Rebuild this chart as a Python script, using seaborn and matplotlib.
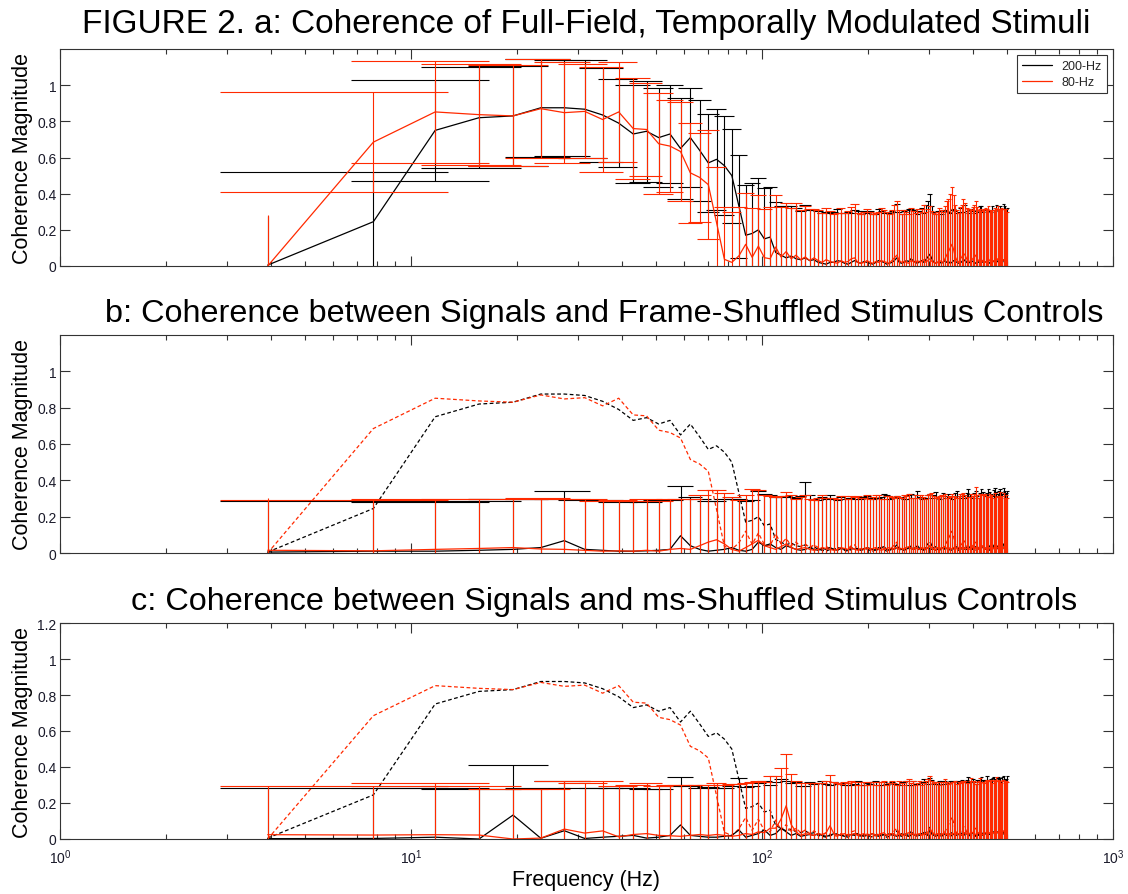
import numpy as np
import matplotlib
matplotlib.use("Agg")
import matplotlib.pyplot as plt
import seaborn as sns

# ---------------- data ----------------
FREQ_RES = 1000.0 / 256.0          # Hz per FFT bin
N_BINS = 128
freq = np.arange(1, N_BINS + 1) * FREQ_RES

series_labels = ["200-Hz", "80-Hz"]

# panel a: coherence means
coh_200 = [0.005, 0.245, 0.75, 0.82, 0.83, 0.875, 0.875, 0.867, 0.835, 0.79,
           0.73, 0.745, 0.71, 0.73, 0.65, 0.71, 0.64, 0.57, 0.59, 0.555,
           0.50, 0.33, 0.17, 0.18, 0.20, 0.15, 0.16, 0.075, 0.06, 0.045,
           0.055, 0.04, 0.035, 0.045, 0.03, 0.035, 0.02, 0.015, 0.01, 0.02,
           0.02, 0.03, 0.025, 0.015, 0.01, 0.02, 0.03, 0.02, 0.015, 0.025,
           0.02, 0.015, 0.01, 0.02, 0.03, 0.025, 0.02, 0.01, 0.015, 0.02,
           0.03, 0.045, 0.02, 0.015, 0.02, 0.03, 0.025, 0.04, 0.03, 0.02,
           0.015, 0.025, 0.03, 0.02, 0.035, 0.05, 0.065, 0.04, 0.02, 0.015,
           0.02, 0.025, 0.015, 0.02, 0.03, 0.02, 0.025, 0.015, 0.02, 0.03,
           0.025, 0.02, 0.015, 0.03, 0.02, 0.025, 0.035, 0.02, 0.015, 0.02,
           0.03, 0.025, 0.02, 0.015, 0.025, 0.02, 0.03, 0.035, 0.02, 0.025,
           0.02, 0.03, 0.025, 0.015, 0.02, 0.03, 0.025, 0.02, 0.035, 0.025,
           0.02, 0.03, 0.025, 0.02, 0.035, 0.03, 0.025, 0.02]
coh_80 = [0.0, 0.685, 0.852, 0.837, 0.83, 0.87, 0.848, 0.855, 0.81, 0.852,
          0.76, 0.755, 0.676, 0.663, 0.633, 0.515, 0.49, 0.45, 0.24, 0.037,
          0.02, 0.056, 0.12, 0.048, 0.11, 0.046, 0.04, 0.105, 0.05, 0.08,
          0.04, 0.06, 0.035, 0.05, 0.03, 0.045, 0.03, 0.02, 0.035, 0.025,
          0.02, 0.015, 0.03, 0.02, 0.025, 0.04, 0.045, 0.02, 0.015, 0.02,
          0.03, 0.02, 0.015, 0.025, 0.02, 0.03, 0.025, 0.02, 0.015, 0.03,
          0.045, 0.06, 0.03, 0.02, 0.025, 0.02, 0.015, 0.03, 0.025, 0.02,
          0.03, 0.02, 0.025, 0.035, 0.02, 0.03, 0.04, 0.025, 0.02, 0.015,
          0.02, 0.03, 0.025, 0.02, 0.04, 0.06, 0.08, 0.1, 0.12, 0.09,
          0.05, 0.03, 0.02, 0.04, 0.05, 0.07, 0.06, 0.04, 0.03, 0.025,
          0.03, 0.04, 0.05, 0.06, 0.04, 0.03, 0.025, 0.02, 0.03, 0.025,
          0.02, 0.03, 0.04, 0.03, 0.025, 0.02, 0.03, 0.025, 0.03, 0.04,
          0.03, 0.025, 0.02, 0.03, 0.035, 0.025, 0.03, 0.02]
err_200 = [0.27, 0.275, 0.28, 0.28, 0.275, 0.27, 0.265, 0.27, 0.26, 0.245,
           0.27, 0.28, 0.275, 0.27, 0.28, 0.275, 0.28, 0.27, 0.28, 0.275,
           0.26, 0.285, 0.277, 0.28, 0.287, 0.28, 0.275, 0.28, 0.27, 0.285,
           0.275, 0.28, 0.27, 0.29, 0.28, 0.275, 0.285, 0.28, 0.29, 0.275,
           0.28, 0.285, 0.27, 0.28, 0.29, 0.275, 0.28, 0.285, 0.27, 0.28,
           0.275, 0.29, 0.28, 0.27, 0.285, 0.28, 0.275, 0.29, 0.28, 0.285,
           0.27, 0.3, 0.28, 0.275, 0.285, 0.28, 0.29, 0.275, 0.28, 0.285,
           0.27, 0.28, 0.29, 0.275, 0.3, 0.31, 0.335, 0.29, 0.28, 0.275,
           0.285, 0.28, 0.27, 0.29, 0.28, 0.285, 0.275, 0.28, 0.29, 0.285,
           0.28, 0.275, 0.285, 0.29, 0.28, 0.275, 0.3, 0.285, 0.28, 0.29,
           0.285, 0.28, 0.275, 0.29, 0.285, 0.28, 0.3, 0.295, 0.28, 0.285,
           0.29, 0.28, 0.285, 0.29, 0.28, 0.3, 0.285, 0.29, 0.305, 0.29,
           0.285, 0.3, 0.29, 0.295, 0.31, 0.3, 0.29, 0.3]
err_80 = [0.28, 0.275, 0.28, 0.28, 0.279, 0.275, 0.278, 0.26, 0.29, 0.275,
          0.28, 0.255, 0.278, 0.255, 0.273, 0.275, 0.245, 0.3, 0.31, 0.29,
          0.28, 0.27, 0.285, 0.275, 0.28, 0.27, 0.285, 0.29, 0.275, 0.27,
          0.28, 0.29, 0.275, 0.28, 0.285, 0.27, 0.28, 0.275, 0.285, 0.28,
          0.27, 0.28, 0.29, 0.275, 0.28, 0.285, 0.3, 0.275, 0.27, 0.28,
          0.285, 0.28, 0.275, 0.27, 0.28, 0.29, 0.285, 0.28, 0.275, 0.28,
          0.29, 0.3, 0.28, 0.27, 0.285, 0.28, 0.275, 0.29, 0.28, 0.275,
          0.285, 0.28, 0.29, 0.3, 0.28, 0.285, 0.29, 0.28, 0.275, 0.27,
          0.28, 0.29, 0.285, 0.28, 0.29, 0.3, 0.29, 0.3, 0.317, 0.3,
          0.29, 0.28, 0.275, 0.285, 0.29, 0.3, 0.29, 0.28, 0.285, 0.29,
          0.28, 0.285, 0.29, 0.3, 0.285, 0.28, 0.29, 0.285, 0.28, 0.29,
          0.3, 0.285, 0.29, 0.28, 0.285, 0.29, 0.28, 0.295, 0.285, 0.29,
          0.28, 0.29, 0.3, 0.285, 0.28, 0.29, 0.285, 0.28]

# panel b: frame-shuffled controls
frame_200 = [0.005, 0.01, 0.01, 0.015, 0.02, 0.03, 0.068, 0.02, 0.015, 0.01,
             0.01, 0.012, 0.015, 0.02, 0.095, 0.04, 0.02, 0.01, 0.015, 0.02,
             0.03, 0.015, 0.01, 0.02, 0.06, 0.04, 0.05, 0.03, 0.02, 0.04,
             0.03, 0.02, 0.015, 0.02, 0.03, 0.02, 0.015, 0.025, 0.02, 0.03,
             0.02, 0.015, 0.025, 0.02, 0.015, 0.03, 0.02, 0.025, 0.015, 0.02,
             0.03, 0.025, 0.02, 0.015, 0.02, 0.03, 0.035, 0.02, 0.015, 0.025,
             0.02, 0.03, 0.025, 0.02, 0.015, 0.02, 0.03, 0.025, 0.02, 0.03,
             0.04, 0.025, 0.02, 0.015, 0.02, 0.03, 0.025, 0.02, 0.03, 0.035,
             0.02, 0.015, 0.025, 0.03, 0.02, 0.025, 0.03, 0.02, 0.015, 0.025,
             0.03, 0.035, 0.025, 0.02, 0.03, 0.025, 0.02, 0.03, 0.04, 0.03,
             0.025, 0.02, 0.03, 0.035, 0.025, 0.02, 0.03, 0.04, 0.035, 0.03,
             0.025, 0.03, 0.045, 0.035, 0.03, 0.025, 0.04, 0.05, 0.035, 0.03,
             0.04, 0.045, 0.035, 0.03, 0.05, 0.04, 0.035, 0.04]
frame_80 = [0.015, 0.012, 0.02, 0.025, 0.03, 0.022, 0.02, 0.015, 0.01, 0.012,
            0.01, 0.015, 0.01, 0.02, 0.025, 0.02, 0.04, 0.06, 0.073, 0.05,
            0.02, 0.01, 0.03, 0.05, 0.07, 0.04, 0.03, 0.02, 0.035, 0.05,
            0.03, 0.02, 0.025, 0.03, 0.02, 0.015, 0.02, 0.03, 0.025, 0.02,
            0.015, 0.02, 0.03, 0.025, 0.02, 0.03, 0.02, 0.015, 0.025, 0.02,
            0.03, 0.02, 0.025, 0.03, 0.02, 0.015, 0.02, 0.025, 0.03, 0.02,
            0.025, 0.03, 0.02, 0.025, 0.02, 0.03, 0.035, 0.025, 0.02, 0.03,
            0.025, 0.02, 0.03, 0.025, 0.02, 0.03, 0.04, 0.03, 0.025, 0.02,
            0.03, 0.025, 0.02, 0.03, 0.035, 0.025, 0.03, 0.02, 0.025, 0.03,
            0.02, 0.025, 0.03, 0.035, 0.025, 0.02, 0.03, 0.025, 0.03, 0.02,
            0.025, 0.03, 0.035, 0.025, 0.03, 0.02, 0.025, 0.03, 0.04, 0.03,
            0.025, 0.03, 0.02, 0.025, 0.035, 0.03, 0.025, 0.03, 0.02, 0.03,
            0.025, 0.035, 0.03, 0.025, 0.03, 0.02, 0.03, 0.025]
frame_err_200 = [0.28, 0.275, 0.27, 0.27, 0.275, 0.27, 0.272, 0.27, 0.275, 0.27,
                 0.275, 0.27, 0.275, 0.27, 0.275, 0.27, 0.28, 0.275, 0.27, 0.275,
                 0.27, 0.28, 0.275, 0.27, 0.28, 0.285, 0.27, 0.28, 0.29, 0.275,
                 0.28, 0.285, 0.3, 0.37, 0.29, 0.28, 0.275, 0.285, 0.28, 0.29,
                 0.28, 0.275, 0.285, 0.28, 0.29, 0.275, 0.28, 0.285, 0.28, 0.29,
                 0.285, 0.28, 0.275, 0.29, 0.285, 0.28, 0.29, 0.3, 0.285, 0.28,
                 0.29, 0.285, 0.28, 0.29, 0.285, 0.28, 0.29, 0.3, 0.285, 0.29,
                 0.3, 0.285, 0.28, 0.29, 0.285, 0.29, 0.3, 0.285, 0.29, 0.3,
                 0.285, 0.28, 0.29, 0.3, 0.285, 0.29, 0.295, 0.285, 0.28, 0.29,
                 0.3, 0.305, 0.29, 0.285, 0.295, 0.29, 0.285, 0.3, 0.31, 0.295,
                 0.29, 0.285, 0.3, 0.305, 0.29, 0.285, 0.3, 0.31, 0.3, 0.295,
                 0.29, 0.3, 0.31, 0.3, 0.295, 0.29, 0.305, 0.31, 0.3, 0.295,
                 0.3, 0.31, 0.3, 0.295, 0.31, 0.3, 0.295, 0.3]
frame_err_80 = [0.29, 0.28, 0.28, 0.275, 0.27, 0.28, 0.275, 0.28, 0.275, 0.28,
                0.275, 0.28, 0.275, 0.28, 0.275, 0.28, 0.28, 0.285, 0.275, 0.28,
                0.29, 0.28, 0.29, 0.3, 0.275, 0.28, 0.285, 0.29, 0.28, 0.285,
                0.29, 0.28, 0.285, 0.29, 0.28, 0.275, 0.285, 0.29, 0.28, 0.285,
                0.29, 0.28, 0.285, 0.29, 0.28, 0.285, 0.29, 0.3, 0.28, 0.285,
                0.29, 0.28, 0.285, 0.29, 0.3, 0.285, 0.28, 0.29, 0.285, 0.29,
                0.28, 0.285, 0.29, 0.28, 0.3, 0.285, 0.29, 0.28, 0.285, 0.29,
                0.28, 0.3, 0.29, 0.285, 0.28, 0.29, 0.285, 0.3, 0.29, 0.285,
                0.28, 0.29, 0.3, 0.285, 0.29, 0.28, 0.285, 0.29, 0.3, 0.285,
                0.29, 0.28, 0.285, 0.29, 0.3, 0.31, 0.29, 0.285, 0.28, 0.29,
                0.3, 0.285, 0.29, 0.34, 0.29, 0.285, 0.3, 0.29, 0.285, 0.29,
                0.3, 0.285, 0.29, 0.3, 0.285, 0.29, 0.28, 0.3, 0.29, 0.285,
                0.29, 0.3, 0.285, 0.29, 0.3, 0.285, 0.29, 0.28]

# panel c: ms-shuffled controls
ms_200 = [0.002, 0.003, 0.01, 0.0, 0.133, 0.004, 0.046, 0.003, 0.01, 0.015,
          0.02, 0.005, 0.01, 0.02, 0.078, 0.02, 0.015, 0.01, 0.01, 0.015,
          0.02, 0.05, 0.01, 0.02, 0.03, 0.05, 0.02, 0.03, 0.06, 0.04,
          0.02, 0.03, 0.015, 0.02, 0.025, 0.02, 0.03, 0.02, 0.015, 0.02,
          0.03, 0.025, 0.02, 0.015, 0.02, 0.025, 0.02, 0.03, 0.02, 0.015,
          0.02, 0.025, 0.03, 0.02, 0.015, 0.02, 0.025, 0.02, 0.03, 0.025,
          0.02, 0.015, 0.02, 0.03, 0.025, 0.02, 0.015, 0.02, 0.03, 0.02,
          0.025, 0.02, 0.03, 0.035, 0.025, 0.02, 0.05, 0.03, 0.02, 0.025,
          0.02, 0.03, 0.025, 0.02, 0.03, 0.025, 0.02, 0.03, 0.035, 0.025,
          0.02, 0.03, 0.025, 0.035, 0.03, 0.02, 0.025, 0.03, 0.035, 0.025,
          0.03, 0.035, 0.025, 0.02, 0.03, 0.025, 0.03, 0.035, 0.03, 0.025,
          0.03, 0.04, 0.03, 0.025, 0.035, 0.03, 0.04, 0.035, 0.03, 0.04,
          0.035, 0.04, 0.03, 0.045, 0.04, 0.035, 0.04, 0.05]
ms_80 = [0.024, 0.022, 0.024, 0.022, 0.0, 0.005, 0.055, 0.033, 0.045, 0.012,
         0.025, 0.03, 0.02, 0.018, 0.015, 0.02, 0.025, 0.02, 0.025, 0.02,
         0.015, 0.02, 0.03, 0.025, 0.04, 0.035, 0.06, 0.06, 0.11, 0.185,
         0.08, 0.04, 0.02, 0.03, 0.025, 0.02, 0.03, 0.025, 0.035, 0.074,
         0.03, 0.02, 0.025, 0.03, 0.02, 0.025, 0.03, 0.02, 0.025, 0.03,
         0.02, 0.025, 0.03, 0.02, 0.025, 0.03, 0.035, 0.02, 0.025, 0.03,
         0.025, 0.02, 0.03, 0.025, 0.02, 0.03, 0.035, 0.025, 0.03, 0.02,
         0.025, 0.03, 0.02, 0.025, 0.03, 0.035, 0.06, 0.04, 0.03, 0.025,
         0.03, 0.02, 0.025, 0.03, 0.035, 0.025, 0.02, 0.03, 0.025, 0.03,
         0.035, 0.025, 0.03, 0.02, 0.025, 0.03, 0.035, 0.03, 0.025, 0.03,
         0.04, 0.035, 0.03, 0.025, 0.03, 0.035, 0.04, 0.03, 0.025, 0.03,
         0.035, 0.04, 0.03, 0.035, 0.04, 0.03, 0.035, 0.04, 0.045, 0.035,
         0.04, 0.035, 0.03, 0.04, 0.045, 0.035, 0.04, 0.03]
ms_err_200 = [0.28, 0.278, 0.275, 0.28, 0.277, 0.28, 0.275, 0.28, 0.275, 0.27,
              0.265, 0.275, 0.27, 0.275, 0.265, 0.275, 0.27, 0.28, 0.275, 0.27,
              0.275, 0.29, 0.28, 0.275, 0.28, 0.275, 0.28, 0.285, 0.275, 0.28,
              0.29, 0.285, 0.28, 0.275, 0.29, 0.285, 0.28, 0.3, 0.29, 0.28,
              0.285, 0.28, 0.29, 0.285, 0.28, 0.275, 0.285, 0.29, 0.28, 0.285,
              0.29, 0.28, 0.285, 0.3, 0.285, 0.28, 0.29, 0.285, 0.28, 0.29,
              0.285, 0.29, 0.28, 0.285, 0.29, 0.3, 0.285, 0.28, 0.29, 0.285,
              0.28, 0.29, 0.285, 0.3, 0.29, 0.285, 0.29, 0.3, 0.285, 0.29,
              0.285, 0.29, 0.3, 0.285, 0.29, 0.28, 0.29, 0.295, 0.285, 0.29,
              0.3, 0.29, 0.285, 0.29, 0.3, 0.295, 0.29, 0.3, 0.31, 0.29,
              0.295, 0.3, 0.29, 0.285, 0.3, 0.295, 0.3, 0.31, 0.3, 0.295,
              0.3, 0.31, 0.3, 0.295, 0.3, 0.31, 0.305, 0.3, 0.295, 0.3,
              0.31, 0.3, 0.295, 0.3, 0.31, 0.3, 0.295, 0.3]
ms_err_80 = [0.27, 0.273, 0.285, 0.27, 0.28, 0.275, 0.27, 0.28, 0.275, 0.28,
             0.275, 0.28, 0.275, 0.28, 0.285, 0.28, 0.275, 0.28, 0.285, 0.28,
             0.29, 0.285, 0.28, 0.29, 0.285, 0.28, 0.29, 0.29, 0.285, 0.285,
             0.28, 0.285, 0.29, 0.28, 0.285, 0.29, 0.28, 0.285, 0.29, 0.28,
             0.285, 0.29, 0.28, 0.285, 0.29, 0.3, 0.285, 0.28, 0.29, 0.285,
             0.28, 0.29, 0.285, 0.28, 0.29, 0.285, 0.29, 0.28, 0.285, 0.29,
             0.285, 0.28, 0.29, 0.285, 0.28, 0.29, 0.3, 0.285, 0.29, 0.28,
             0.285, 0.29, 0.28, 0.285, 0.29, 0.3, 0.29, 0.285, 0.28, 0.29,
             0.285, 0.28, 0.29, 0.285, 0.3, 0.29, 0.285, 0.28, 0.29, 0.285,
             0.29, 0.28, 0.285, 0.29, 0.3, 0.285, 0.29, 0.28, 0.285, 0.29,
             0.3, 0.285, 0.29, 0.28, 0.285, 0.29, 0.3, 0.285, 0.29, 0.28,
             0.285, 0.29, 0.3, 0.285, 0.29, 0.28, 0.285, 0.29, 0.3, 0.285,
             0.29, 0.285, 0.28, 0.29, 0.285, 0.29, 0.28, 0.285]

titles = ["FIGURE 2. a: Coherence of Full-Field, Temporally Modulated Stimuli",
          "b: Coherence between Signals and Frame-Shuffled Stimulus Controls",
          "c: Coherence between Signals and ms-Shuffled Stimulus Controls"]
y_label = "Coherence Magnitude"
x_label = "Frequency (Hz)"

# ---------------- style ----------------
BLACK = "#000000"
RED = "#ff2a00"

sns.set_style("ticks")
plt.rcParams["font.family"] = ["Liberation Sans", "DejaVu Sans"]
plt.rcParams["axes.linewidth"] = 0.8
plt.rcParams["axes.edgecolor"] = "#333333"

fig = plt.figure(figsize=(11.28, 8.95), dpi=100)
W, H = 1128.0, 895.0
left, right = 60 / W, 1113 / W
boxes = [(50, 267), (336, 554), (624, 840)]
axes = [fig.add_axes([left, 1 - bot / H, right - left, (bot - top) / H]) for top, bot in boxes]


def draw_errbars(ax, x, y, e, color, lw=0.8):
    x = np.asarray(x, float)
    y = np.asarray(y, float)
    e = np.asarray(e, float)
    lo, hi = y - e, y + e
    ax.vlines(x, lo, hi, colors=color, lw=lw)
    tee = (x.max() - x.min()) / 100.0
    ok = (x - tee) > 0
    ax.hlines(hi[ok], (x - tee)[ok], (x + tee)[ok], colors=color, lw=lw)
    ax.hlines(lo[ok], (x - tee)[ok], (x + tee)[ok], colors=color, lw=lw)


# panel a
ax = axes[0]
draw_errbars(ax, freq, coh_200, err_200, BLACK)
sns.lineplot(x=freq, y=coh_200, ax=ax, color=BLACK, lw=0.9, label=series_labels[0])
draw_errbars(ax, freq, coh_80, err_80, RED)
sns.lineplot(x=freq, y=coh_80, ax=ax, color=RED, lw=0.9, label=series_labels[1])
leg = ax.legend(loc="upper right", fontsize=9, frameon=True, fancybox=False,
                edgecolor="#333333", framealpha=1, handlelength=2.4,
                borderaxespad=0.5, labelspacing=0.3, borderpad=0.4)
leg.get_frame().set_linewidth(0.8)

# panels b and c
controls = [(frame_200, frame_err_200, frame_80, frame_err_80),
            (ms_200, ms_err_200, ms_80, ms_err_80)]
for ax, (m2, e2, m8, e8) in zip(axes[1:], controls):
    sns.lineplot(x=freq, y=coh_200, ax=ax, color=BLACK, lw=0.9,
                 linestyle=(0, (3, 2)), legend=False)
    sns.lineplot(x=freq, y=coh_80, ax=ax, color=RED, lw=0.9,
                 linestyle=(0, (3, 2)), legend=False)
    draw_errbars(ax, freq, m2, e2, BLACK)
    sns.lineplot(x=freq, y=m2, ax=ax, color=BLACK, lw=0.9, legend=False)
    draw_errbars(ax, freq, m8, e8, RED)
    sns.lineplot(x=freq, y=m8, ax=ax, color=RED, lw=0.9, legend=False)

title_sizes = [24, 23.3, 23.3]
title_pads = [12.5, 10, 10]
title_x = [0.5, 0.517, 0.517]
for i, ax in enumerate(axes):
    ax.set_xscale("log")
    ax.set_xlim(1, 1000)
    ax.set_ylim(0, 1.2)
    if i < 2:
        ax.set_yticks([0, 0.2, 0.4, 0.6, 0.8, 1.0])
        ax.set_yticklabels(["0", "0.2", "0.4", "0.6", "0.8", "1"])
        ax.tick_params(axis="x", which="both", labelbottom=False)
        ax.set_xlabel("")
    else:
        ax.set_yticks([0, 0.2, 0.4, 0.6, 0.8, 1.0, 1.2])
        ax.set_yticklabels(["0", "0.2", "0.4", "0.6", "0.8", "1", "1.2"])
        ax.set_xlabel(x_label, fontsize=15.5, labelpad=2, color="black")
    ax.tick_params(which="both", direction="in", top=True, right=True,
                   colors="#333333", labelcolor="#1a1a2a", labelsize=10, width=0.8)
    ax.tick_params(axis="y", pad=2.5)
    ax.tick_params(axis="x", pad=6)
    ax.tick_params(which="major", length=7)
    ax.tick_params(which="minor", length=3.5)
    ax.set_ylabel(y_label, fontsize=15.5, labelpad=3, color="black")
    ax.set_title(titles[i], fontsize=title_sizes[i], pad=title_pads[i],
                 x=title_x[i], color="black")
    for s in ax.spines.values():
        s.set_visible(True)

fig.savefig("out.png", dpi=100)
